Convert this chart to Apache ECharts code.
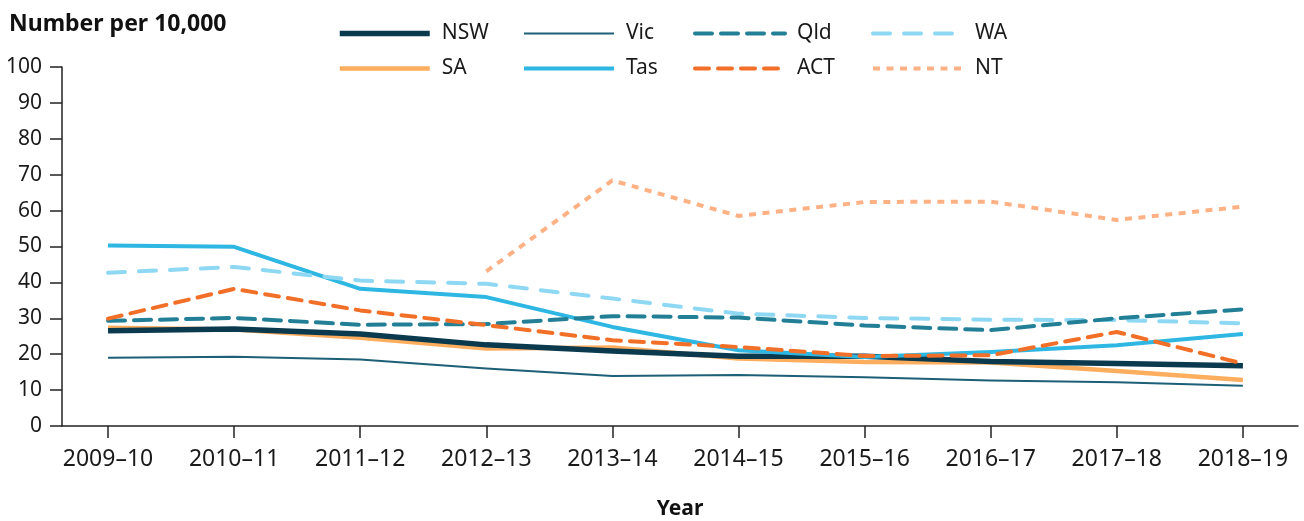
<!DOCTYPE html>
<html>
<head>
<meta charset="utf-8">
<script src="https://cdn.jsdelivr.net/npm/echarts@6/dist/echarts.min.js"></script>
<style>
  html, body { margin: 0; padding: 0; background: #ffffff; }
  #chart { width: 1304px; height: 521px; }
</style>
</head>
<body>
<div id="chart"></div>
<script>
// financial years on the x axis
const years = ['2009–10', '2010–11', '2011–12', '2012–13', '2013–14', '2014–15', '2015–16', '2016–17', '2017–18', '2018–19'];
const yTicks = [0, 10, 20, 30, 40, 50, 60, 70, 80, 90, 100];

// number per 10,000
const nsw = [26.5, 27.0, 25.6, 22.6, 20.9, 19.4, 19.4, 18.0, 17.4, 16.8];
const vic = [19.0, 19.3, 18.5, 16.0, 13.9, 14.2, 13.6, 12.7, 12.2, 11.2];
const qld = [29.3, 30.1, 28.2, 28.4, 30.6, 30.2, 28.0, 26.7, 30.0, 32.5];
const wa  = [42.7, 44.3, 40.5, 39.6, 35.5, 31.3, 30.1, 29.6, 29.5, 28.6];
const sa  = [27.4, 26.9, 24.6, 21.6, 21.9, 18.8, 17.8, 17.7, 15.3, 12.8];
const tas = [50.3, 49.9, 38.2, 35.9, 27.6, 21.1, 19.2, 20.6, 22.5, 25.6];
const act = [29.9, 38.2, 32.2, 28.1, 23.9, 22.0, 19.5, 19.7, 26.2, 17.4];
const nt  = [null, null, null, 43.1, 68.4, 58.5, 62.4, 62.5, 57.4, 61.1];

const font = '"Noto Sans", "Open Sans", sans-serif';
const axisColor = '#222222';

const styles = {
  NSW: { color: '#0b3a4f', width: 5.5, type: 'solid', cap: 'butt' },
  Vic: { color: '#1d5f76', width: 2, type: 'solid', cap: 'butt' },
  Qld: { color: '#237f96', width: 4, type: [17, 9], cap: 'round' },
  WA:  { color: '#8fd8f3', width: 4, type: [17, 14], cap: 'round' },
  SA:  { color: '#fdad5e', width: 4.5, type: 'solid', cap: 'butt' },
  Tas: { color: '#2db7e2', width: 4, type: 'solid', cap: 'butt' },
  ACT: { color: '#f26f28', width: 4, type: [14, 9], cap: 'round' },
  NT:  { color: '#fdb185', width: 4, type: [7, 6.5], cap: 'butt' }
};

const seriesList = [
  ['NSW', nsw], ['Vic', vic], ['Qld', qld], ['WA', wa],
  ['SA', sa], ['Tas', tas], ['ACT', act], ['NT', nt]
];

// draw order: thin/solid lines under the dashed ones
const drawOrder = ['Vic', 'SA', 'NSW', 'Tas', 'WA', 'Qld', 'ACT', 'NT'];

const chart = echarts.init(document.getElementById('chart'), null, { renderer: 'canvas' });

const lineStyleOf = name => {
  const s = styles[name];
  return { color: s.color, width: s.width, type: s.type, cap: s.cap, join: 'round' };
};

const series = seriesList.map(([name, values]) => ({
  name: name,
  type: 'line',
  symbol: 'none',
  z: 2 + drawOrder.indexOf(name),
  data: values.map((v, i) => (v === null ? null : [i, v])).filter(d => d !== null),
  lineStyle: lineStyleOf(name),
  itemStyle: { color: styles[name].color },
  emphasis: { disabled: true }
}));

const legendColumns = [['NSW', 'SA'], ['Vic', 'Tas'], ['Qld', 'ACT'], ['WA', 'NT']];
const legendLeft = [337, 522, 693, 871];

const legends = legendColumns.map((names, c) => ({
  data: names.map(n => ({ name: n, lineStyle: lineStyleOf(n), itemStyle: { opacity: 0 } })),
  orient: 'vertical',
  left: legendLeft[c],
  top: 23,
  padding: 0,
  itemWidth: 90,
  itemHeight: 26,
  itemGap: 14,
  selectedMode: false,
  itemStyle: { opacity: 0 },
  textStyle: { fontFamily: font, fontSize: 21, color: '#1a1a1a', padding: [0, 0, 0, 7] }
}));

const option = {
  animation: false,
  backgroundColor: '#ffffff',
  title: {
    text: 'Number per 10,000',
    left: 4,
    top: 8,
    textStyle: { fontFamily: font, fontSize: 23, fontWeight: 'bold', color: '#111111' }
  },
  legend: legends,
  grid: { left: 62, right: 6, top: 67, bottom: 95, outerBoundsMode: 'none' },
  xAxis: {
    type: 'value',
    min: -0.365,
    max: 9.437,
    name: 'Year',
    nameLocation: 'middle',
    nameGap: 73,
    nameTextStyle: { fontFamily: font, fontSize: 21, fontWeight: 'bold', color: '#111111' },
    splitLine: { show: false },
    axisLine: { show: true, onZero: false, lineStyle: { color: axisColor, width: 1.5 } },
    axisTick: { show: true, length: 12, customValues: years.map((y, i) => i), lineStyle: { color: axisColor, width: 1.5 } },
    axisLabel: {
      customValues: years.map((y, i) => i),
      formatter: v => years[Math.round(v)],
      margin: 22,
      fontFamily: font,
      fontSize: 23,
      color: '#1a1a1a'
    }
  },
  yAxis: {
    type: 'value',
    min: yTicks[0],
    max: yTicks[yTicks.length - 1],
    interval: 10,
    splitLine: { show: false },
    axisLine: { show: true, onZero: false, lineStyle: { color: axisColor, width: 1.5 } },
    axisTick: { show: true, length: 12, lineStyle: { color: axisColor, width: 1.5 } },
    axisLabel: { margin: 20, fontFamily: font, fontSize: 21, color: '#1a1a1a' }
  },
  series: series
};

chart.setOption(option);
</script>
</body>
</html>
